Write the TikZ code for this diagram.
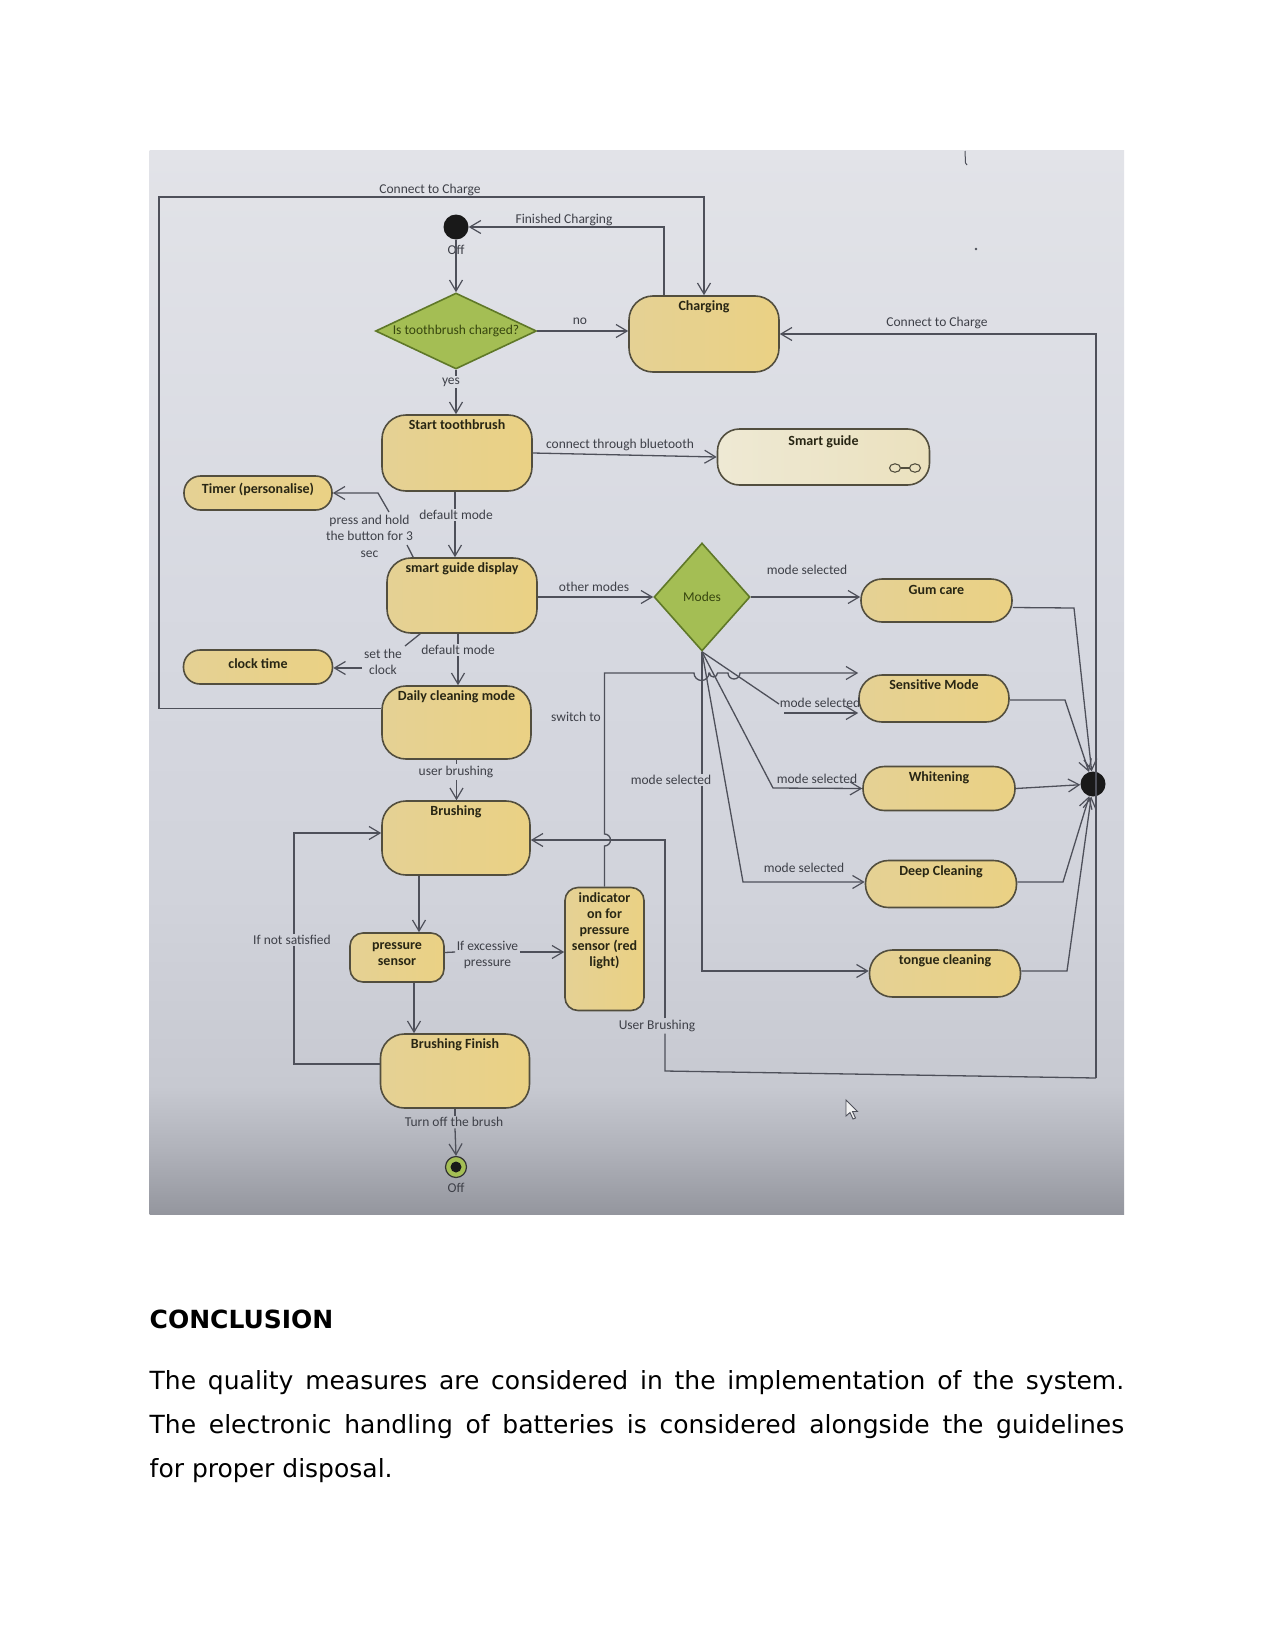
\documentclass[tikz,border=0pt]{standalone}
\usepackage{fontspec}
\setmainfont{Carlito}
\newfontfamily\dejavu{DejaVu Sans}
\usetikzlibrary{arrows.meta,shapes.geometric,calc}
\definecolor{pc1}{RGB}{226,227,232}
\definecolor{pc2}{RGB}{215,217,225}
\definecolor{pc2a}{RGB}{209,211,219}
\definecolor{pc3}{RGB}{199,201,209}
\definecolor{pc4}{RGB}{176,178,186}
\definecolor{pc5}{RGB}{148,150,158}
\pgfdeclareverticalshading{photo}{100bp}{color(0bp)=(pc5); color(25bp)=(pc5); color(28bp)=(pc4); color(31bp)=(pc3); color(40bp)=(pc2a); color(54bp)=(pc2); color(75bp)=(pc1); color(100bp)=(pc1)}
\definecolor{boxA}{RGB}{229,209,148}
\definecolor{boxB}{RGB}{234,209,132}
\definecolor{boxE}{RGB}{82,78,62}
\definecolor{paleA}{RGB}{238,233,212}
\definecolor{paleB}{RGB}{235,225,190}
\definecolor{diaF}{RGB}{164,190,84}
\definecolor{diaE}{RGB}{95,120,40}
\definecolor{lnc}{RGB}{78,80,90}
\definecolor{txc}{RGB}{62,64,72}
\definecolor{ttc}{RGB}{40,38,20}
\tikzset{
  box/.style={draw=boxE, line width=1.6pt, rounded corners=24pt, left color=boxA, right color=boxB, inner sep=0pt},
  pill/.style={box, rounded corners=#1},
  dia/.style={diamond, draw=diaE, line width=1.6pt, fill=diaF, inner sep=0pt},
  arr/.style={draw=lnc, line width=1.3pt, -{Straight Barb[length=11pt,width=13pt,line width=1.2pt]}},
  ln/.style={draw=lnc, line width=1.3pt},
  lbl/.style={font=\fontsize{13.5}{16.5}\selectfont, text=txc, inner sep=1.5pt, align=center},
  ttl/.style={font=\fontsize{14}{16}\selectfont\bfseries, text=ttc, inner sep=0pt, align=center},
  ttop/.style={ttl, anchor=base, yshift=-15.5pt},
  dtxt/.style={ttl, font=\fontsize{13.5}{16}\selectfont, text={rgb,255:red,55;green,70;blue,15}},
}
\begin{document}
\begin{tikzpicture}[x=1pt,y=-1pt]
\useasboundingbox (0,0) rectangle (1275,1651);
\fill[white] (0,0) rectangle (1275,1651);
\shade[shading=photo] (149.5,150) rectangle (1124,1214);

% small marks in the photo
\draw[lnc, line width=1pt] (965,151) -- (965.5,163) -- (967,165);
\fill[lnc] (976,249) circle (1.3pt);
\draw[lnc, line width=0.9pt, fill=white!90!gray] (846,1100) -- (846,1116) -- (850,1112.5) -- (853,1119) -- (855.5,1118) -- (852.5,1111.5) -- (857.5,1111.5) -- cycle;

% ---------- nodes ----------
\node[circle, fill=black!90, minimum size=25pt, inner sep=0pt] (init) at (456,227) {};
\node[dia, minimum width=161pt, minimum height=76pt, label={[dtxt]center:Is toothbrush charged?}] (chk) at (456,331) {};
\node[box, minimum width=150pt, minimum height=76pt, label={[ttop]north:Charging}] (charging) at (704,334) {};
\node[box, minimum width=150pt, minimum height=76pt, label={[ttop]north:Start toothbrush}] (start) at (457,453) {};
\node[box, rounded corners=22pt, left color=paleA, right color=paleB, minimum width=212pt, minimum height=56pt, label={[ttop,yshift=-2pt]north:Smart guide}] (smart) at (823.5,457) {};
\node[pill=16.5pt, minimum width=148pt, minimum height=34pt, label={[ttl,yshift=4pt]center:Timer (personalise)}] (timer) at (258,493) {};
\node[box, minimum width=150pt, minimum height=75pt, label={[ttop]north:smart guide display}] (sgd) at (462,595.5) {};
\node[pill=16.5pt, minimum width=149pt, minimum height=34pt, label={[ttl,yshift=3pt]center:clock time}] (clock) at (258,667) {};
\node[dia, minimum width=96pt, minimum height=108pt, label={[dtxt]center:Modes}] (modes) at (702,597) {};
\node[box, minimum width=149pt, minimum height=73pt, label={[ttop]north:Daily cleaning mode}] (daily) at (456.5,722.5) {};
\node[box, minimum width=148pt, minimum height=74pt, label={[ttop]north:Brushing}] (brush) at (456,838) {};
\node[box, rounded corners=13pt, minimum width=94pt, minimum height=49pt, label={[ttl,yshift=3pt]center:pressure\\sensor}] (press) at (397,957.5) {};
\node[box, rounded corners=13pt, minimum width=79pt, minimum height=123pt, label={[ttl,anchor=north,yshift=-6pt]north:indicator\\on for\\pressure\\sensor (red\\light)}] (ind) at (604.5,949) {};
\node[box, minimum width=149pt, minimum height=74pt, label={[ttop]north:Brushing Finish}] (fin) at (455,1071) {};
\node[circle, draw=black!80, line width=1.2pt, fill=diaF, minimum size=21pt, inner sep=0pt,
      path picture={\fill[black!90] (path picture bounding box.center) circle (5.5pt);}] (off) at (456,1167) {};
\node[pill=21pt, minimum width=151pt, minimum height=43pt, label={[ttop,yshift=-1pt]north:Gum care}] (gum) at (936.5,600.5) {};
\node[pill=23pt, minimum width=150pt, minimum height=47pt, label={[ttop]north:Sensitive Mode}] (sens) at (934,698.5) {};
\node[pill=21.5pt, minimum width=152pt, minimum height=44pt, label={[ttop]north:Whitening}] (white) at (939,788.5) {};
\node[pill=23pt, minimum width=151pt, minimum height=47pt, label={[ttop]north:Deep Cleaning}] (deep) at (941,884) {};
\node[pill=23pt, minimum width=151pt, minimum height=47pt, label={[ttop]north:tongue cleaning}] (tongue) at (945,973.5) {};
\node[circle, fill=black!90, minimum size=25pt, inner sep=0pt] (endd) at (1093,784) {};

% smart guide icon
\draw[boxE, line width=1.1pt] (895,468) ellipse [x radius=5.5, y radius=4.2];
\draw[boxE, line width=1.1pt] (915,468) ellipse [x radius=5.5, y radius=4.2];
\draw[boxE, line width=1.1pt] (900.5,468) -- (909.5,468);

% ---------- labels ----------
\node[lbl] (l1) at (430,190) {Connect to Charge};
\node[lbl] (l2) at (564,220) {Finished Charging};
\node[lbl] (l3) at (456,250) {Off};
\node[lbl] (l4) at (580,321) {no};
\node[lbl] (l5) at (451,382) {yes};
\node[lbl] (l6) at (620,445) {connect through bluetooth};
\node[lbl] (l7) at (937,323) {Connect to Charge};
\node[lbl] (l8) at (456,515) {default mode};
\node[lbl] (l9) at (369.5,536) {press and hold\\the button for 3\\sec};
\node[lbl] (l10) at (594,587) {other modes};
\node[lbl] (l11) at (807,570) {mode selected};
\node[lbl] (l12) at (458,650) {default mode};
\node[lbl] (l13) at (383,662) {set the\\clock};
\node[lbl] (l14) at (576,717) {switch to};
\node[lbl] (l15) at (820,703) {mode selected};
\node[lbl] (l16) at (817,779) {mode selected};
\node[lbl] (l17) at (671,780) {mode selected};
\node[lbl] (l18) at (456,772) {user brushing};
\node[lbl] (l19) at (804,868) {mode selected};
\node[lbl] (l20) at (292,940) {If not satisfied};
\node[lbl] (l21) at (487.5,955) {If excessive\\pressure};
\node[lbl] (l22) at (657,1026) {User Brushing};
\node[lbl] (l23) at (454,1122) {Turn off the brush};
\node[lbl] (l24) at (456,1187.5) {Off};

\coordinate (cr) at (1096,1078);
\coordinate (ph1) at (407,545);
\coordinate (ph2) at (389,512);
\coordinate (ph3) at (378,493);
\coordinate (sc1) at (405,646);
\coordinate (sc2) at (362,668);

% ---------- connectors ----------
\draw[arr] (init) -- (chk.north);
\draw[arr] (chk.east) -- (charging.west |- chk.east);
\draw[ln] (chk.south) -- (chk.south |- l5.north);
\draw[arr] (chk.south |- l5.south) -- (chk.south |- start.north);
\draw[arr] ([yshift=14pt]daily.west) -- (159,708.5) -- (159,197) -| (charging.north);
\draw[arr] ([xshift=-40pt]charging.north) |- (init.east);
\draw[arr] (cr) |- (charging.east);
\draw[ln] (cr) -- (665,1071) -- (l22.south -| 665,0);
\draw[arr] (l22.north -| 665,0) -- (665,840) -- (brush.east |- 0,840);
\draw[arr] (start.east) -- (smart.west);
\draw[ln] ([xshift=-2pt]start.south) -- ([xshift=-2pt]start.south |- l8.north);
\draw[arr] ([xshift=-2pt]start.south |- l8.south) -- ([xshift=-2pt]start.south |- sgd.north);
\draw[ln] ([xshift=27pt]sgd.north west) -- (ph1);
\draw[arr] (ph2) -- (ph3) -- (ph3 -| timer.east);
\draw[arr] (sgd.east |- modes.west) -- (modes.west);
\draw[ln] ([xshift=-4pt]sgd.south) -- ([xshift=-4pt]sgd.south |- l12.north);
\draw[arr] ([xshift=-4pt]sgd.south |- l12.south) -- ([xshift=-4pt]sgd.south |- daily.north);
\draw[ln] ([xshift=34pt]sgd.south west) -- (sc1);
\draw[arr] (sc2) -- (sc2 -| clock.east);
\draw[ln] (daily.south) -- (daily.south |- l18.north);
\draw[arr] (daily.south |- l18.south) -- (daily.south |- brush.north);
\draw[arr] ([xshift=-37pt]brush.south) -- ([xshift=-37pt]brush.south |- press.north);
\draw[arr] ([xshift=17pt]press.south) -- ([xshift=17pt]press.south |- fin.north);
\draw[ln] ([yshift=7pt]fin.west) -| (l20.south -| 294,0);
\draw[arr] (l20.north -| 294,0) |- ([yshift=5pt]brush.west);
\draw[ln] ([yshift=5pt]press.east) -- (l21.west |- 0,952);
\draw[arr] (l21.east |- 0,952) -- (ind.west |- 0,952);
\draw[arr] (ind.north) -- (604.5,846) arc[start angle=90, end angle=-90, radius=6] -- (604.5,673)
  -- (694,673) arc[start angle=180, end angle=0, radius=7.5] -- (709.5,673)
  arc[start angle=180, end angle=0, radius=4] -- (728,673)
  arc[start angle=180, end angle=0, radius=6] -- (sens.west |- 0,673);
\draw[arr] (modes.east) -- (gum.west |- modes.east);
\draw[ln] (modes.south) -- (779,704);
\draw[arr] (784,713) -- (sens.west |- 0,713);
\draw[arr] (modes.south) -- (773,788) -- (white.west);
\draw[arr] (modes.south) -- (743,882) -- (deep.west |- 0,882);
\draw[ln] (modes.south) -- (modes.south |- l17.north);
\draw[arr] (modes.south |- l17.south) |- (tongue.west |- 0,971);
\draw[arr] ([yshift=-7pt]gum.east) -- (1074,608) -- (endd);
\draw[arr] ([yshift=-1.5pt]sens.east) -- (1065,700) -- (endd);
\draw[arr] (white.east) -- (endd);
\draw[arr] ([yshift=2pt]deep.east) -- (1063,882) -- (endd);
\draw[arr] ([yshift=2.5pt]tongue.east) -- (1067,971) -- (endd);
\draw[ln] (fin.south) -- (fin.south |- l23.north);
\draw[arr] (fin.south |- l23.south) -- (off.north);

% ---------- text below ----------
\node[anchor=base west, inner sep=0pt, font=\dejavu\bfseries\fontsize{25}{30}\selectfont] (concl) at (149.5,1328) {CONCLUSION};
\node[anchor=base west, inner sep=0pt, text width=974.5pt, align=justify, font=\dejavu\fontsize{25}{44}\selectfont] (body) at (149.5,1389)
 {The quality measures are considered in the implementation of the system.\linebreak The electronic handling of batteries is considered alongside the guidelines\linebreak for proper disposal.};
\end{tikzpicture}
\end{document}
